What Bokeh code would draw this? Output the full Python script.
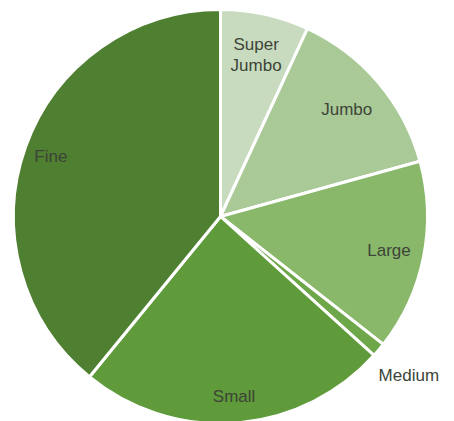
import math
from bokeh.plotting import figure
from bokeh.models import ColumnDataSource
from bokeh.core.properties import value
from bokeh.embed import file_html
from bokeh.resources import INLINE

categories = ["Super\nJumbo", "Jumbo", "Large", "Medium", "Small", "Fine"]
shares = [6.9, 13.8, 14.9, 1.1, 24.2, 39.1]
colors = ["#c8dbbf", "#a9c997", "#89b86b", "#6ea64a", "#5f9a3b", "#4f7f31"]
label_r = [0.80, 0.80, 0.83, 1.19, 0.87, 0.87]

W, H = 446, 421
cx, cy = 220, 205   # center in data units (1 unit = 1 px)
R = 207

total = sum(shares)
starts, ends, lx, ly = [], [], [], []
acc = 0.0
for s, lr in zip(shares, label_r):
    a0 = math.pi / 2 - 2 * math.pi * acc / total
    acc += s
    a1 = math.pi / 2 - 2 * math.pi * acc / total
    starts.append(a0)
    ends.append(a1)
    mid = (a0 + a1) / 2
    lx.append(cx + lr * R * math.cos(mid))
    ly.append(cy + lr * R * math.sin(mid))

src = ColumnDataSource(dict(start=starts, end=ends, color=colors,
                            label=categories, lx=lx, ly=ly))

p = figure(width=W, height=H, x_range=(0, W), y_range=(0, H),
           output_backend="svg", toolbar_location=None, min_border=0)
p.axis.visible = False
p.grid.visible = False
p.outline_line_color = None
p.background_fill_color = "white"

p.wedge(x=cx, y=cy, radius=R, start_angle="start", end_angle="end",
        direction="clock", fill_color="color", line_color="white",
        line_width=3, source=src)

p.text(x="lx", y="ly", text="label", source=src, text_align="center",
       text_baseline="middle", text_font=value("Liberation Sans"),
       text_font_size="17px", text_color="#3d4437", text_line_height=1.1)

open("out.html", "w").write(file_html(p, INLINE))
